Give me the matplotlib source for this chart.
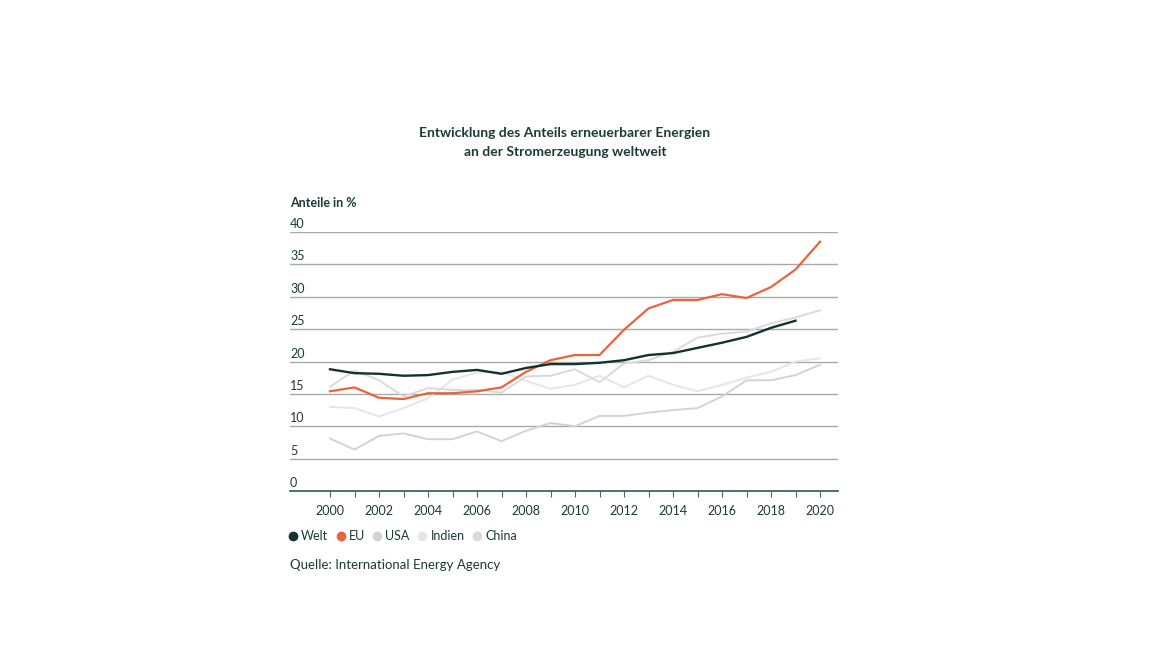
import numpy as np
import matplotlib
matplotlib.use('Agg')
import matplotlib.pyplot as plt
from matplotlib.lines import Line2D
import matplotlib.transforms as mtransforms

plt.rcParams['font.family'] = ['Lato', 'DejaVu Sans']

# data
years = list(range(2000, 2021))
welt = [18.8, 18.2, 18.1, 17.8, 17.9, 18.4, 18.7, 18.1, 19.0, 19.6, 19.6, 19.8,
        20.2, 21.0, 21.3, 22.1, 22.9, 23.8, 25.2, 26.3]
eu = [15.4, 16.0, 14.4, 14.2, 15.1, 15.1, 15.4, 16.0, 18.4, 20.2, 21.0, 21.0,
      24.9, 28.2, 29.5, 29.5, 30.4, 29.8, 31.5, 34.2, 38.5]
usa = [8.1, 6.4, 8.5, 8.9, 8.0, 8.0, 9.2, 7.7, 9.3, 10.5, 10.0, 11.6,
       11.6, 12.1, 12.5, 12.8, 14.6, 17.1, 17.1, 17.9, 19.5]
indien = [13.0, 12.8, 11.5, 12.8, 14.3, 17.2, 18.3, 18.4, 17.0, 15.8, 16.4, 17.8,
          16.0, 17.8, 16.4, 15.4, 16.4, 17.5, 18.4, 20.0, 20.5]
china = [16.1, 18.6, 17.1, 14.6, 15.9, 15.6, 15.6, 15.2, 17.7, 17.8, 18.8, 16.8,
         19.7, 20.2, 21.5, 23.7, 24.3, 24.6, 25.9, 26.8, 27.9]

y_ticks = [0, 5, 10, 15, 20, 25, 30, 35, 40]
x_labels = list(range(2000, 2021, 2))

text_col = '#1c3a36'
c_welt = '#12332e'
c_eu = '#e8643c'
c_usa = '#d3d3d3'
c_indien = '#e6e6e6'
c_china = '#dadada'

W, H = 1156, 651
fig = plt.figure(figsize=(W / 100, H / 100), dpi=100)
ax = fig.add_axes([290 / W, 1 - 491 / H, (838 - 290) / W, (491 - 232) / H])

for yt in y_ticks[1:]:
    ax.axhline(yt, color='#a9a9a9', lw=1.0, zorder=1)

ax.plot(years, indien, color=c_indien, lw=1.4, zorder=2)
ax.plot(years, usa, color=c_usa, lw=1.4, zorder=2)
ax.plot(years, china, color=c_china, lw=1.4, zorder=2)
ax.plot(years, eu, color=c_eu, lw=1.6, zorder=3)
ax.plot(years[:len(welt)], welt, color=c_welt, lw=1.7, zorder=4)

ax.set_xlim(2000 - 40 / 24.5, 2020 + 18 / 24.5)
ax.set_ylim(0, 40)

for s in ['top', 'right', 'left']:
    ax.spines[s].set_visible(False)
ax.spines['bottom'].set_color('#2b5a55')
ax.spines['bottom'].set_linewidth(1.2)

ax.set_yticks([])
ax.set_xticks(years)
ax.set_xticklabels([str(y) if y in x_labels else '' for y in years])
ax.tick_params(axis='x', direction='out', length=4, width=0.8, color='#4a6a66',
               labelsize=9, labelcolor=text_col, pad=6)

# y labels above the gridlines
trans = mtransforms.blended_transform_factory(ax.transAxes, ax.transData)
for yt in y_ticks:
    ax.text(0, yt + 0.3, str(yt), transform=trans, ha='left', va='bottom',
            fontsize=9, color=text_col)

fig.text(290 / W, 1 - 203 / H, 'Anteile in %', ha='left', va='center',
         fontsize=9, fontweight='bold', color=text_col)

fig.text(565 / W, 1 - 133 / H, 'Entwicklung des Anteils erneuerbarer Energien',
         ha='center', va='center', fontsize=10, fontweight='bold', color=text_col)
fig.text(565 / W, 1 - 152 / H, 'an der Stromerzeugung weltweit',
         ha='center', va='center', fontsize=10, fontweight='bold', color=text_col)

handles = [Line2D([], [], marker='o', linestyle='None', color=c, markersize=6)
           for c in [c_welt, c_eu, c_usa, c_indien, c_china]]
leg = fig.legend(handles, ['Welt', 'EU', 'USA', 'Indien', 'China'],
                 loc='center left', bbox_to_anchor=(289 / W, 1 - 536 / H),
                 ncol=5, frameon=False, fontsize=9, handlelength=0.6,
                 handletextpad=0.35, columnspacing=0.7, borderaxespad=0,
                 borderpad=0)
for t in leg.get_texts():
    t.set_color(text_col)

fig.text(290 / W, 1 - 565 / H, 'Quelle: International Energy Agency',
         ha='left', va='center', fontsize=9.5, color=text_col)

fig.savefig('out.png', dpi=100, facecolor='white')
